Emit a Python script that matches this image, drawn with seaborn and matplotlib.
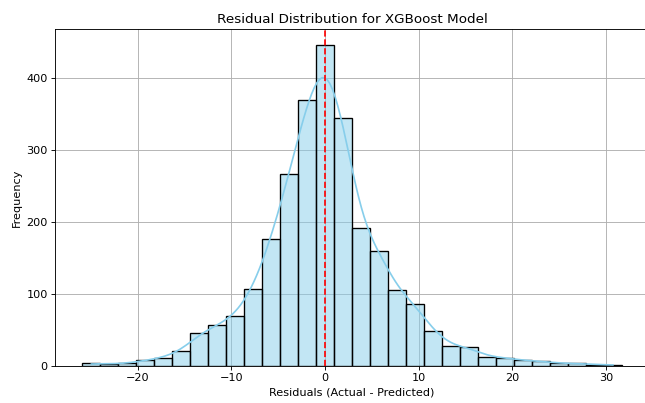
import numpy as np
import pandas as pd
import matplotlib
matplotlib.use("Agg")
import matplotlib.pyplot as plt
import seaborn as sns

# Histogram bin counts (30 bins)
bin_left = -25.9
bin_right = 31.7
counts = [3, 2, 3, 7, 11, 20, 45, 56, 69, 106, 176, 267, 370, 446, 345,
          192, 160, 105, 86, 48, 27, 26, 12, 11, 7, 6, 3, 3, 1, 1]

title = "Residual Distribution for XGBoost Model"
xlabel = "Residuals (Actual - Predicted)"
ylabel = "Frequency"

n_bins = len(counts)
edges = np.linspace(bin_left, bin_right, n_bins + 1)
centers = (edges[:-1] + edges[1:]) / 2
df = pd.DataFrame({"residual": centers, "count": counts})

fig = plt.figure(figsize=(8, 5), dpi=80.625)
ax = fig.add_axes([0.086, 0.093, 0.920, 0.834])
sns.histplot(data=df, x="residual", weights="count", bins=n_bins,
             binrange=(bin_left, bin_right), kde=True,
             color="skyblue", edgecolor="black", linewidth=1.2,
             kde_kws={"bw_adjust": 0.33}, line_kws={"linewidth": 1.5}, ax=ax)
ax.axvline(0, color="red", linestyle="--", linewidth=1.5)
ax.set_title(title, fontsize=12)
ax.set_xlabel(xlabel, fontsize=10)
ax.set_ylabel(ylabel, fontsize=10)
ax.grid(True)
ax.set_axisbelow(True)
fig.savefig("out.png", dpi=80.625)
